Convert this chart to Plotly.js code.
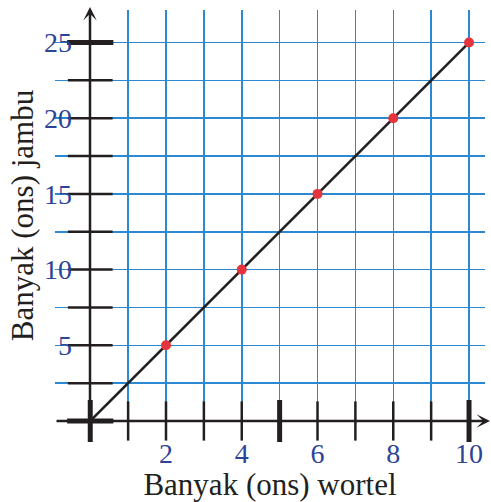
<!DOCTYPE html>
<html>
<head>
<meta charset="utf-8">
<script src="https://cdn.plot.ly/plotly-3.0.1.min.js"></script>
<style>html,body{margin:0;padding:0;background:#fff;}#chart{width:491px;height:502px;}</style>
</head>
<body>
<div id="chart"></div>
<script>
// Data
const wortel = [2, 4, 6, 8, 10];
const jambu = [5, 10, 15, 20, 25];
const lineX = [0, 2, 4, 6, 8, 10];
const lineY = [0, 5, 10, 15, 20, 25];
const xTickVals = [2, 4, 6, 8, 10];
const xTickText = ['2', '4', '6', '8', '10'];
const yTickVals = [5, 10, 15, 20, 25];
const yTickText = ['5', '10', '15', '20', '25'];
const xMarks = [1, 2, 3, 4, 6, 7, 8, 9];
const xMarksBold = [0, 5, 10];
const yMarks = [2.5, 5, 7.5, 10, 12.5, 15, 17.5, 20, 22.5];
const yMarksBold = [0, 25];
const xTitle = 'Banyak (ons) wortel';
const yTitle = 'Banyak (ons) jambu';

const BLACK = '#231f20';
const GRID = '#2b88d2';
const LBL = '#2d4496';
const RED = '#e6343d';
const FONT = 'Liberation Serif, Times New Roman, serif';

const traces = [
  {x: xMarks, y: xMarks.map(() => 0), mode: 'markers', cliponaxis: false, hoverinfo: 'skip',
   marker: {symbol: 'line-ns', size: 28, line: {width: 2.5, color: BLACK}}},
  {x: xMarksBold, y: xMarksBold.map(() => 0), mode: 'markers', cliponaxis: false, hoverinfo: 'skip',
   marker: {symbol: 'line-ns', size: 30, line: {width: 5, color: BLACK}}},
  {x: yMarks.map(() => 0), y: yMarks, mode: 'markers', cliponaxis: false, hoverinfo: 'skip',
   marker: {symbol: 'line-ew', size: 32, line: {width: 2.5, color: BLACK}}},
  {x: yMarksBold.map(() => 0), y: yMarksBold, mode: 'markers', cliponaxis: false, hoverinfo: 'skip',
   marker: {symbol: 'line-ew', size: 33, line: {width: 5, color: BLACK}}},
  {x: lineX, y: lineY, mode: 'lines', cliponaxis: false, line: {color: BLACK, width: 2.5}},
  {x: wortel, y: jambu, mode: 'markers', cliponaxis: false, marker: {color: RED, size: 10}}
];

const layout = {
  width: 491, height: 502,
  margin: {l: 55, r: 6, t: 10, b: 81},
  paper_bgcolor: '#fff', plot_bgcolor: '#fff',
  showlegend: false,
  font: {family: FONT, color: BLACK},
  xaxis: {
    range: [-0.9307, 10.422], autorange: false,
    tickvals: xTickVals, ticktext: xTickText, ticks: '',
    tickfont: {size: 28, color: LBL, family: FONT},
    ticklabelstandoff: 13,
    showgrid: true, gridcolor: GRID, gridwidth: 1.5,
    minor: {dtick: 1, tick0: 0, showgrid: true, gridcolor: GRID, gridwidth: 1.5},
    zeroline: false, showline: false,
    title: {text: xTitle, font: {size: 31, color: BLACK, family: FONT}, standoff: 0}
  },
  yaxis: {
    range: [0, 27.147], autorange: false,
    anchor: 'free', position: 0.0814,
    tickvals: yTickVals, ticktext: yTickText, ticks: '',
    tickfont: {size: 28, color: LBL, family: FONT},
    ticklabelstandoff: 18,
    showgrid: true, gridcolor: GRID, gridwidth: 1.5,
    minor: {dtick: 2.5, tick0: 0, showgrid: true, gridcolor: GRID, gridwidth: 1.5},
    zeroline: false, showline: false,
    title: {text: yTitle, font: {size: 31, color: BLACK, family: FONT}, standoff: 0}
  },
  annotations: [
    {xref: 'paper', yref: 'paper', x: 1.014, y: 0, ax: -436, ay: 0, text: '',
     showarrow: true, arrowhead: 3, arrowsize: 0.9, arrowwidth: 2.5, arrowcolor: BLACK},
    {xref: 'paper', yref: 'paper', x: 0.0814, y: 1.0073, ax: 0, ay: 428, text: '',
     showarrow: true, arrowhead: 3, arrowsize: 0.9, arrowwidth: 2.5, arrowcolor: BLACK}
  ]
};

Plotly.newPlot('chart', traces, layout, {displayModeBar: false, staticPlot: true});
</script>
</body>
</html>
